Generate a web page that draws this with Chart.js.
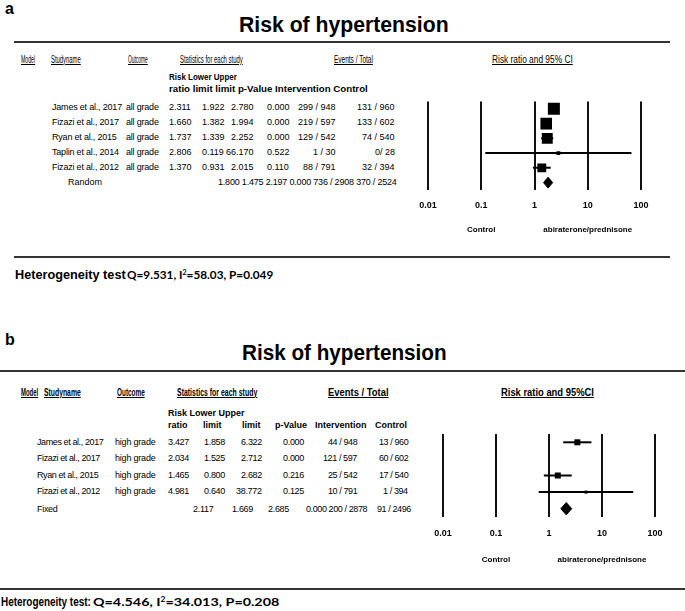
<!DOCTYPE html>
<html>
<head>
<meta charset="utf-8">
<script src="https://cdn.jsdelivr.net/npm/chart.js@4.4.1/dist/chart.umd.min.js"></script>
<style>
  html, body { margin: 0; padding: 0; background: #fff; }
  #page { position: relative; width: 685px; height: 611px; overflow: hidden;
          font-family: "Liberation Sans", Arial, sans-serif; color: #000; }
  .t { position: absolute; white-space: nowrap; line-height: 1; transform-origin: 0 50%; }
  .t sup { font-size: 0.6em; line-height: 0; vertical-align: 0.55em; }
  .rule { position: absolute; height: 2px; background: #333; }
  canvas { position: absolute; }
</style>
</head>
<body>
<div id="page">
  <canvas id="plotA"></canvas>
  <canvas id="plotB"></canvas>
</div>
<script>
// ---- data: panel a (all grade, random effects) ----
const studiesA = ['James et al., 2017', 'Fizazi et al., 2017', 'Ryan et al., 2015', 'Taplin et al., 2014', 'Fizazi et al., 2012'];
const outcomeA = ['all grade', 'all grade', 'all grade', 'all grade', 'all grade'];
const ratioA = [2.311, 1.660, 1.737, 2.806, 1.370];
const lowerA = [1.922, 1.382, 1.339, 0.119, 0.931];
const upperA = [2.780, 1.994, 2.252, 66.170, 2.015];
const pValueA = [0.000, 0.000, 0.000, 0.522, 0.110];
const eventsIntA = ['299 / 948', '219 / 597', '129 / 542', '1 / 30', '88 / 791'];
const eventsCtlA = ['131 / 960', '133 / 602', '74 / 540', '0/ 28', '32 / 394'];
const weightsA = [29, 27, 24, 3, 16];          // relative weight (%)
const shownA = [true, true, true, true, true];
const pooledLabelA = 'Random';
const pooledA = [1.800, 1.475, 2.197, 0.000];   // ratio, lower, upper, p
const pooledEventsA = ['736 / 2908', '370 / 2524'];
const hetA = [9.531, 58.03, 0.049];             // Q, I2, P

// ---- data: panel b (high grade, fixed effect) ----
const studiesB = ['James et al., 2017', 'Fizazi et al., 2017', 'Ryan et al., 2015', 'Fizazi et al., 2012'];
const outcomeB = ['high grade', 'high grade', 'high grade', 'high grade'];
const ratioB = [3.427, 2.034, 1.465, 4.981];
const lowerB = [1.858, 1.525, 0.800, 0.640];
const upperB = [6.322, 2.712, 2.682, 38.772];
const pValueB = [0.000, 0.000, 0.216, 0.125];
const eventsIntB = ['44 / 948', '121 / 597', '25 / 542', '10 / 791'];
const eventsCtlB = ['13 / 960', '60 / 602', '17 / 540', '1 / 394'];
const weightsB = [16, 60, 16, 4];
const shownB = [true, false, true, true];       // Fizazi 2017 has no marker in the source figure
const pooledLabelB = 'Fixed';
const pooledB = [2.117, 1.669, 2.685, 0.000];
const pooledEventsB = ['200 / 2878', '91 / 2496'];
const hetB = [4.546, 34.013, 0.208];

// ---- shared labels ----
const title = 'Risk of hypertension';
const tickValues = [0.01, 0.1, 1, 10, 100];
const tickLabels = ['0.01', '0.1', '1', '10', '100'];
const sideLabels = ['Control', 'abiraterone/prednisone'];
const sideAt = [0.1, 10];
const headersA = ['Model', 'Studyname', 'Outcome', 'Statistics for each study', 'Events / Total', 'Risk ratio and 95% CI'];
const headersB = ['Model', 'Studyname', 'Outcome', 'Statistics for each study', 'Events / Total', 'Risk ratio and 95%CI'];
const subHeadA = ['Risk Lower Upper', 'ratio limit limit p-Value Intervention Control'];
const subHeadB = ['Risk Lower Upper', 'ratio', 'limit', 'limit', 'p-Value', 'Intervention', 'Control'];

const page = document.getElementById('page');
const FONT = '"Liberation Sans", Arial, sans-serif';

// place a text item; y is the vertical centre, w (optional) squeezes it to a width
function put(text, x, y, o = {}) {
  const el = document.createElement('div');
  el.className = 't';
  if (o.html) el.innerHTML = text; else el.textContent = text;
  el.style.fontSize = (o.size || 9) + 'px';
  if (o.bold) el.style.fontWeight = 'bold';
  if (o.underline) el.style.textDecoration = 'underline';
  if (o.family) el.style.fontFamily = o.family;
  if (o.ls) el.style.letterSpacing = o.ls + 'px';
  page.appendChild(el);
  const w = el.offsetWidth;
  const sx = o.w ? o.w / w : 1;
  let left = x;
  if (o.align === 'right') left = x - w * sx;
  if (o.align === 'center') left = x - w * sx / 2;
  el.style.left = left + 'px';
  el.style.top = (y - el.offsetHeight / 2) + 'px';
  el.style.transform = 'scaleX(' + sx + ')';
  return el;
}

function rule(x, y, w) {
  const el = document.createElement('div');
  el.className = 'rule';
  el.style.left = x + 'px';
  el.style.top = y + 'px';
  el.style.width = w + 'px';
  page.appendChild(el);
}

const fmt = v => v.toFixed(3);
const hetText = h => 'Q=' + h[0] + ', I<sup>2</sup>=' + h[1] + ', P=' + h[2];

// ---------------- panel a text ----------------
put('a', 5, 9, { size: 16, bold: true });
put(title, 239, 25, { size: 22, bold: true, w: 210 });
rule(14, 41, 656);
rule(14, 256, 656);

const hdrColsA = [[21, 14], [51, 30], [128, 20], [180, 63], [334, 39], [492, 81]];
headersA.forEach((h, i) => put(h, hdrColsA[i][0], 60, { size: 10, underline: true, w: hdrColsA[i][1] }));
put(subHeadA[0], 169, 77, { size: 9.5, bold: true, w: 68 });
put(subHeadA[1], 169, 89, { size: 9.5, bold: true, w: 199 });

studiesA.forEach((s, i) => {
  const y = 107 + 15 * i;
  put(s, 52, y, { size: 9, ls: -0.2 });
  put(outcomeA[i], 126, y, { size: 9, ls: -0.2 });
  put(fmt(ratioA[i]), 169, y, { size: 9 });
  put(fmt(lowerA[i]), 202, y, { size: 9 });
  put(fmt(upperA[i]), 254, y, { size: 9, align: 'right' });
  put(fmt(pValueA[i]), 267, y, { size: 9 });
  put(eventsIntA[i], 336, y, { size: 9, align: 'right' });
  put(eventsCtlA[i], 395, y, { size: 9, align: 'right' });
});
put(pooledLabelA, 68, 182, { size: 9 });
put(pooledA.map(fmt).concat(pooledEventsA).join(' '), 218, 182, { size: 9, ls: -0.2 });

put('Heterogeneity test', 15, 275, { size: 12, bold: true, w: 111 });
put(hetText(hetA), 127, 275, { size: 12, bold: true, family: 'Lato, sans-serif', html: true, w: 146 });

// ---------------- panel b text ----------------
put('b', 5, 340, { size: 16, bold: true });
put(title, 242, 353, { size: 22, bold: true, w: 205 });
rule(0, 370, 685);
rule(0, 588, 685);

const hdrColsB = [[21, 17], [44, 37], [117, 28], [177, 80], [328, 61], [501, 93]];
headersB.forEach((h, i) => put(h, hdrColsB[i][0], 392, { size: 10.5, bold: true, underline: true, w: hdrColsB[i][1] }));
put(subHeadB[0], 168, 413, { size: 9, bold: true });
const subColsB = [168, 203, 242, 275, 315, 375];
subHeadB.slice(1).forEach((h, i) => put(h, subColsB[i], 425, { size: 9, bold: true }));

studiesB.forEach((s, i) => {
  const y = 442 + 16.6 * i;
  put(s, 37, y, { size: 9, ls: -0.4 });
  put(outcomeB[i], 115, y, { size: 9, ls: -0.2 });
  put(fmt(ratioB[i]), 168, y, { size: 9, ls: -0.3 });
  put(fmt(lowerB[i]), 204, y, { size: 9, ls: -0.3 });
  put(fmt(upperB[i]), 262, y, { size: 9, ls: -0.3, align: 'right' });
  put(fmt(pValueB[i]), 283, y, { size: 9, ls: -0.3 });
  put(eventsIntB[i], 357, y, { size: 9, ls: -0.4, align: 'right' });
  put(eventsCtlB[i], 408, y, { size: 9, ls: -0.4, align: 'right' });
});
put(pooledLabelB, 37, 509, { size: 9, ls: -0.3 });
put(fmt(pooledB[0]), 193, 509, { size: 9, ls: -0.3 });
put(fmt(pooledB[1]), 232, 509, { size: 9, ls: -0.3 });
put(fmt(pooledB[2]), 268, 509, { size: 9, ls: -0.3 });
put(fmt(pooledB[3]) + ' ' + pooledEventsB[0], 306, 509, { size: 9, ls: -0.4 });
put(pooledEventsB[1], 411, 509, { size: 9, ls: -0.4, align: 'right' });

put('Heterogeneity test:', 1, 602, { size: 12, bold: true, w: 90 });
put(hetText(hetB), 93, 602, { size: 12, bold: true, family: 'Lato, sans-serif', html: true, w: 186 });

// ---------------- forest plots ----------------
const sideNotes = {
  id: 'sideNotes',
  afterDraw(chart, args, opts) {
    const { ctx, scales: { x } } = chart;
    ctx.save();
    ctx.font = 'bold 8px ' + FONT;
    ctx.fillStyle = '#000';
    ctx.textAlign = 'center';
    ctx.textBaseline = 'middle';
    sideLabels.forEach((s, i) => ctx.fillText(s, x.getPixelForValue(sideAt[i]), opts.y));
    ctx.restore();
  }
};

function forest(id, box, ratio, lower, upper, weights, shown, pooled, boxScale) {
  const n = ratio.length;
  const tickSize = 9;
  const side = 20;
  const cTop = box.top - 6;
  const cLeft = box.left - side;
  const width = box.right - box.left + 2 * side;
  const height = box.noteY + 10 - cTop;
  const tickPad = box.tickY - 4 - box.bottom;
  const axisH = 2 * tickPad + tickSize * 1.2;
  const padBottom = height - (box.bottom - cTop) - axisH;

  const canvas = document.getElementById(id);
  canvas.width = width;
  canvas.height = height;
  canvas.style.left = cLeft + 'px';
  canvas.style.top = cTop + 'px';

  const ciSets = ratio.map((r, i) => ({
    type: 'line',
    data: shown[i] ? [{ x: lower[i], y: i }, { x: upper[i], y: i }] : [],
    borderColor: '#000',
    borderWidth: 2,
    pointRadius: 0
  }));

  const boxes = {
    type: 'scatter',
    data: ratio.map((r, i) => ({ x: r, y: i })),
    pointStyle: 'rect',
    backgroundColor: '#000',
    borderWidth: 0,
    pointRadius: weights.map((w, i) => shown[i] ? boxScale * Math.sqrt(w) / Math.SQRT2 : 0)
  };

  const h = 0.37;
  const diamond = {
    type: 'line',
    data: [
      { x: pooled[1], y: n }, { x: pooled[0], y: n - h },
      { x: pooled[2], y: n }, { x: pooled[0], y: n + h }, { x: pooled[1], y: n }
    ],
    borderColor: '#000',
    backgroundColor: '#000',
    borderWidth: 1,
    pointRadius: 0,
    fill: 'shape'
  };

  return new Chart(canvas.getContext('2d'), {
    type: 'scatter',
    data: { datasets: [boxes, diamond, ...ciSets] },
    plugins: [sideNotes],
    options: {
      responsive: false,
      animation: false,
      layout: { padding: { left: side, right: side, top: 6, bottom: padBottom } },
      plugins: {
        legend: { display: false },
        tooltip: { enabled: false },
        sideNotes: { y: box.noteY - cTop }
      },
      scales: {
        x: {
          type: 'logarithmic',
          min: tickValues[0],
          max: tickValues[tickValues.length - 1],
          afterBuildTicks: axis => { axis.ticks = tickValues.map(v => ({ value: v })); },
          grid: { color: '#111', lineWidth: 2, drawTicks: false },
          border: { display: false },
          ticks: {
            autoSkip: false,
            maxRotation: 0,
            padding: tickPad,
            color: '#000',
            font: { family: FONT, size: tickSize, weight: 'bold' },
            callback: (v, i) => tickLabels[i]
          }
        },
        y: {
          type: 'linear',
          reverse: true,
          min: -0.5,
          max: n + 0.5,
          display: false
        }
      }
    }
  });
}

forest('plotA', { left: 428, right: 641, top: 99, bottom: 190, tickY: 204, noteY: 230 },
  ratioA, lowerA, upperA, weightsA, shownA, pooledA, 2.23);
forest('plotB', { left: 443, right: 655, top: 434, bottom: 517, tickY: 532, noteY: 560 },
  ratioB, lowerB, upperB, weightsB, shownB, pooledB, 1.5);
</script>
</body>
</html>
